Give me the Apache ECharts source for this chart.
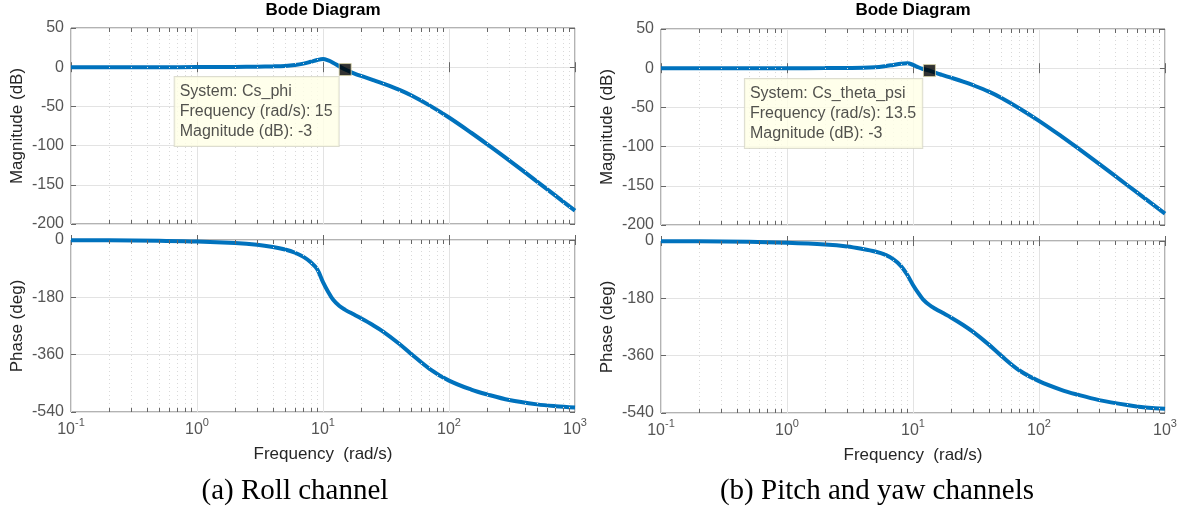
<!DOCTYPE html>
<html>
<head>
<meta charset="utf-8">
<script src="https://cdn.jsdelivr.net/npm/echarts@6/dist/echarts.min.js"></script>
<style>
html,body{margin:0;padding:0;background:#fff;}
#chart{width:1189px;height:520px;}
</style>
</head>
<body>
<div id="chart"></div>
<script>
// ---------------- data ----------------
const freq = [0.1, 0.2, 0.5, 1, 2, 3, 4, 5, 6, 7, 8, 9, 10, 11, 12, 13.5, 15, 17, 20, 25, 30, 40, 50, 70, 100, 150, 200, 300, 500, 700, 1000];
const rollMag = [0, 0, 0, 0.1, 0.3, 0.6, 1.0, 1.6, 2.8, 4.6, 7.0, 9.2, 10.3, 8.6, 5.8, 1.0, -3, -6.8, -11.2, -16.4, -20.8, -28.5, -35.8, -48.7, -64.2, -83.6, -98.0, -118.8, -145.9, -163.9, -183];
const rollPhase = [-0.5, -1, -2.5, -4.5, -9.5, -15, -22, -30, -40, -53, -70, -92, -132, -163, -187, -207.5, -219.4, -231.1, -245.9, -267.7, -287.5, -325, -357.5, -404.3, -441.5, -469.7, -484.7, -502.3, -516.1, -521.7, -525.6];
const pitchMag = [0, 0, 0, 0, 0.1, 0.3, 0.5, 1.2, 2.6, 4.2, 5.6, 6.2, 4.3, 1.2, -1.0, -3, -5.75, -8.6, -12.1, -17.1, -21.7, -29.9, -37.7, -51.3, -67.1, -86.6, -101.1, -122.1, -149.0, -166.7, -185.4];
const pitchPhase = [-0.5, -1, -2.2, -5.5, -11, -17, -25, -33, -43, -58, -78, -106, -138, -163, -183, -201, -212.5, -224.7, -239.9, -263.6, -285.4, -325.4, -359.8, -406.6, -439.9, -467.2, -481.9, -499.5, -515.0, -522.6, -526.9];

const xTickExps = ['-1', '0', '1', '2', '3'];
const magTicks = [-200, -150, -100, -50, 0, 50];
const phaseTicks = [-540, -360, -180, 0];
const decades = [0.1, 1, 10, 100];
const minorFactors = [2, 3, 4, 5, 6, 7, 8, 9];

const rollTip = { name: 'Cs_phi', freq: 15, mag: -3 };
const pitchTip = { name: 'Cs_theta_psi', freq: 13.5, mag: -3 };

const panelTitles = ['Bode Diagram', 'Bode Diagram'];
const captions = ['(a) Roll channel', '(b) Pitch and yaw channels'];

// ---------------- styling ----------------
const lineColor = '#0072bd';
const frameColor = '#666666';
const tickColor = '#555555';
const labelColor = '#262626';
const majorGrid = '#e3e3e3';
const minorGrid = '#d9d9d9';

const grids = [
  { left: 71, top: 28, width: 504, height: 196 },
  { left: 71, top: 240, width: 504, height: 172 },
  { left: 661, top: 29, width: 504, height: 196 },
  { left: 661, top: 241, width: 504, height: 172 }
];
grids.forEach(g => { g.show = true; g.borderColor = frameColor; g.borderWidth = 1; g.backgroundColor = '#fff'; });

const minorFreqs = [];
decades.forEach(d => minorFactors.forEach(m => minorFreqs.push(+(d * m).toPrecision(6))));

function pairs(ys) { return freq.map((f, i) => [f, ys[i]]); }

const xAxes = [];
const yAxes = [];
grids.forEach((g, gi) => {
  const isPhase = gi % 2 === 1;
  xAxes.push({
    type: 'log', logBase: 10, min: 0.1, max: 1000, gridIndex: gi, position: 'bottom',
    axisLine: { show: false },
    axisTick: { show: true, inside: true, length: 5, lineStyle: { color: frameColor } },
    splitLine: { show: true, lineStyle: { color: majorGrid, width: 1 } },
    axisLabel: {
      show: isPhase, margin: 10,
      formatter: function (v) {
        const e = Math.round(Math.log10(v));
        return '{b|10}{s|' + xTickExps[e + 1] + '}';
      },
      rich: {
        b: { fontSize: 16, fontFamily: 'Liberation Sans', color: tickColor, lineHeight: 16, verticalAlign: 'bottom' },
        s: { fontSize: 11, fontFamily: 'Liberation Sans', color: tickColor, lineHeight: 11, padding: [0, 0, 10, 0], verticalAlign: 'bottom' }
      }
    },
    name: isPhase ? 'Frequency  (rad/s)' : '',
    nameLocation: 'middle', nameGap: 34,
    nameTextStyle: { fontSize: 17, fontFamily: 'Liberation Sans', color: labelColor }
  });
  xAxes.push({
    type: 'log', logBase: 10, min: 0.1, max: 1000, gridIndex: gi, position: 'top',
    axisLine: { show: false }, axisLabel: { show: false }, splitLine: { show: false },
    axisTick: { show: true, inside: true, length: 5, lineStyle: { color: frameColor } }
  });
  const ticks = isPhase ? phaseTicks : magTicks;
  const yBase = {
    type: 'value', gridIndex: gi,
    min: ticks[0], max: ticks[ticks.length - 1], interval: ticks[1] - ticks[0]
  };
  yAxes.push(Object.assign({}, yBase, {
    position: 'left',
    axisLine: { show: false },
    axisTick: { show: true, inside: true, length: 5, lineStyle: { color: frameColor } },
    splitLine: { show: true, lineStyle: { color: majorGrid, width: 1 } },
    axisLabel: { show: true, margin: 7, fontSize: 16, fontFamily: 'Liberation Sans', color: tickColor },
    name: isPhase ? 'Phase (deg)' : 'Magnitude (dB)',
    nameLocation: 'middle', nameGap: 45,
    nameTextStyle: { fontSize: 17, fontFamily: 'Liberation Sans', color: labelColor }
  }));
  yAxes.push(Object.assign({}, yBase, {
    position: 'right',
    axisLine: { show: false }, axisLabel: { show: false }, splitLine: { show: false },
    axisTick: { show: true, inside: true, length: 5, lineStyle: { color: frameColor } }
  }));
});

const series = [];
const curves = [rollMag, rollPhase, pitchMag, pitchPhase];
curves.forEach((ys, gi) => {
  const isPhase = gi % 2 === 1;
  const ticks = isPhase ? phaseTicks : magTicks;
  const yMin = ticks[0], yMax = ticks[ticks.length - 1];
  const tickLenData = 4 * (yMax - yMin) / grids[gi].height;
  const ml = [];
  minorFreqs.forEach(f => {
    ml.push({ xAxis: f, lineStyle: { color: minorGrid, width: 1, type: [1, 3] } });
  });
  minorFreqs.forEach(f => {
    ml.push([{ coord: [f, yMax], lineStyle: { color: frameColor, width: 1, type: 'solid' } }, { coord: [f, yMax - tickLenData] }]);
    ml.push([{ coord: [f, yMin], lineStyle: { color: frameColor, width: 1, type: 'solid' } }, { coord: [f, yMin + tickLenData] }]);
  });
  series.push({
    type: 'line', xAxisIndex: gi * 2, yAxisIndex: gi * 2, data: pairs(ys),
    showSymbol: false, lineStyle: { opacity: 0, width: 0 }, silent: true, z: 1,
    markLine: { silent: true, symbol: ['none', 'none'], label: { show: false }, animation: false, data: ml }
  });
  series.push({
    type: 'line', xAxisIndex: gi * 2, yAxisIndex: gi * 2, data: pairs(ys),
    showSymbol: false, smooth: 0.35,
    lineStyle: { color: lineColor, width: 4 }, z: 3, animation: false
  });
});

function tipSeries(tip, gi, pos) {
  return {
    type: 'scatter', xAxisIndex: gi * 2, yAxisIndex: gi * 2,
    data: [[tip.freq, tip.mag]], symbol: 'rect', symbolSize: 12, z: 10,
    itemStyle: { color: '#000', borderColor: '#d6d2a6', borderWidth: 1 },
    label: {
      show: true, position: pos, align: 'left',
      formatter: 'System: ' + tip.name + '\nFrequency (rad/s): ' + tip.freq + '\nMagnitude (dB): ' + tip.mag,
      fontSize: 16, fontFamily: 'Liberation Sans', color: labelColor, lineHeight: 20,
      backgroundColor: '#ffffe6', borderColor: '#d4d4c4', borderWidth: 1, padding: [5, 6, 4, 5]
    },
    animation: false
  };
}
series.push(tipSeries(rollTip, 0, [-164, 14]));
series.push(tipSeries(pitchTip, 2, [-178, 15]));

const titles = [
  { text: panelTitles[0], left: 323, top: 2, textAlign: 'center', padding: 0,
    textStyle: { fontSize: 17, fontWeight: 'bold', fontFamily: 'Liberation Sans', color: '#000' } },
  { text: panelTitles[1], left: 913, top: 2, textAlign: 'center', padding: 0,
    textStyle: { fontSize: 17, fontWeight: 'bold', fontFamily: 'Liberation Sans', color: '#000' } },
  { text: captions[0], left: 295, top: 477, textAlign: 'center', padding: 0,
    textStyle: { fontSize: 29, fontWeight: 'normal', fontFamily: 'Liberation Serif', color: '#000' } },
  { text: captions[1], left: 877, top: 477, textAlign: 'center', padding: 0,
    textStyle: { fontSize: 29, fontWeight: 'normal', fontFamily: 'Liberation Serif', color: '#000' } }
];

const chart = echarts.init(document.getElementById('chart'), null, { renderer: 'canvas' });
chart.setOption({
  animation: false,
  backgroundColor: '#fff',
  title: titles,
  grid: grids,
  xAxis: xAxes,
  yAxis: yAxes,
  series: series
});
</script>
</body>
</html>
